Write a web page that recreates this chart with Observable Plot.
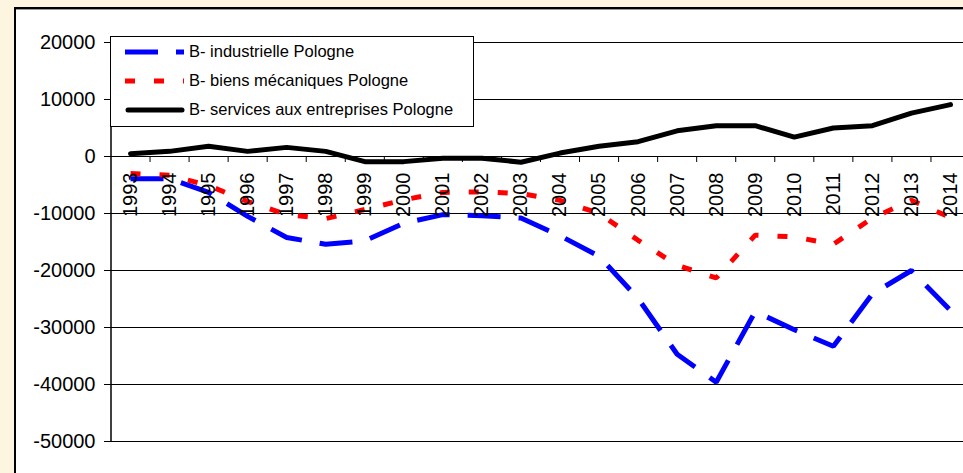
<!DOCTYPE html>
<html>
<head>
<meta charset="utf-8">
<script src="https://cdn.jsdelivr.net/npm/d3@7"></script>
<script src="https://cdn.jsdelivr.net/npm/@observablehq/plot@0.6"></script>
<style>
html, body { margin: 0; padding: 0; width: 963px; height: 473px; overflow: hidden; background: #FEF5E1; font-family: "Liberation Sans", Arial, sans-serif; }
#frame { position: absolute; left: 14px; top: 7px; width: 1000px; height: 500px; background: #fff; border-left: 2px solid #000; border-top: 2px solid #000; box-shadow: inset 0 1px 0 0 #999; }
#chart { position: absolute; left: 0; top: 0; }
#legend { position: absolute; left: 110px; top: 36px; width: 364px; height: 91px; box-sizing: border-box; border: 1px solid #000; background: #fff; padding-left: 14px; }
.row { height: 29px; display: flex; align-items: center; font-size: 16.5px; color: #000; white-space: nowrap; }
.row svg { width: 60px; height: 10px; margin-right: 4px; flex: none; }
</style>
</head>
<body>
<div id="frame"></div>
<div id="chart"></div>
<div id="legend"></div>
<script>
// ---- data ----
const years = [1993, 1994, 1995, 1996, 1997, 1998, 1999, 2000, 2001, 2002, 2003, 2004, 2005, 2006, 2007, 2008, 2009, 2010, 2011, 2012, 2013, 2014];
const industrielle = [-3900, -3900, -6300, -10500, -14200, -15400, -14800, -11700, -10200, -10400, -10800, -13900, -17500, -24900, -34700, -39600, -27200, -30400, -33300, -24100, -20000, -27000];
const mecaniques = [-3000, -3300, -5100, -7900, -10200, -10900, -9300, -7600, -6300, -6200, -6500, -7700, -10000, -14700, -19100, -21300, -13800, -14100, -15400, -10800, -7700, -10700];
const services = [500, 900, 1800, 900, 1600, 900, -900, -900, -300, -300, -1000, 600, 1800, 2600, 4500, 5400, 5400, 3400, 5000, 5400, 7600, 9100];
const yTicks = [20000, 10000, 0, -10000, -20000, -30000, -40000, -50000];
const seriesNames = ["B- industrielle Pologne", "B- biens mécaniques Pologne", "B- services aux entreprises Pologne"];
const seriesColors = ["#0000FF", "#FF0000", "#000000"];
const seriesDash = ["33,18", "10,19", null];

// ---- table ----
const rows = years.map((year, i) => ({year, industrielle: industrielle[i], mecaniques: mecaniques[i], services: services[i]}));
const boundaries = years.map(y => y + 0.5);
const keys = ["industrielle", "mecaniques", "services"];

const lineMarks = keys.map((k, s) => Plot.line(rows, {
  x: "year", y: k,
  stroke: seriesColors[s],
  strokeWidth: 5,
  strokeDasharray: seriesDash[s] || undefined,
  strokeLinecap: seriesDash[s] ? "butt" : "round",
  strokeLinejoin: seriesDash[s] ? "miter" : "round"
}));

const chart = Plot.plot({
  width: 963,
  height: 473,
  marginLeft: 110,
  marginTop: 42,
  marginBottom: 32,
  marginRight: 0,
  style: {background: "transparent", fontFamily: "'Liberation Sans', Arial, sans-serif", fontSize: "20px", color: "#000"},
  x: {type: "linear", domain: [years[0] - 0.5, years[years.length - 1] + 0.5], range: [110.5, 969.5], axis: null},
  y: {domain: [-50000, 20000], ticks: yTicks, tickFormat: d => String(d), tickSize: 6, tickPadding: 9, label: null},
  marks: [
    Plot.ruleY(yTicks, {stroke: "#000", strokeWidth: 1}),
    Plot.ruleX([years[0] - 0.5], {stroke: "#000", strokeWidth: 1.5}),
    Plot.ruleX(boundaries, {x: d => d, y1: 0, y2: 0, insetBottom: -6, stroke: "#000", strokeWidth: 1}),
    ...lineMarks,
    Plot.text(years, {x: d => d, y: 0, text: d => String(d), rotate: -90, textAnchor: "end", dy: 16, fontSize: 20, fill: "#000"})
  ]
});
document.getElementById("chart").appendChild(chart);

// ---- legend ----
const legend = d3.select("#legend");
seriesNames.forEach((name, s) => {
  const row = legend.append("div").attr("class", "row");
  const svg = row.append("svg").attr("viewBox", "0 0 60 10");
  const dashed = !!seriesDash[s];
  svg.append("line")
    .attr("x1", dashed ? 0 : 3).attr("x2", dashed ? 59 : 57)
    .attr("y1", 5).attr("y2", 5)
    .attr("stroke", seriesColors[s]).attr("stroke-width", 5)
    .attr("stroke-dasharray", seriesDash[s])
    .attr("stroke-linecap", dashed ? "butt" : "round");
  row.append("span").text(name);
});
</script>
</body>
</html>
